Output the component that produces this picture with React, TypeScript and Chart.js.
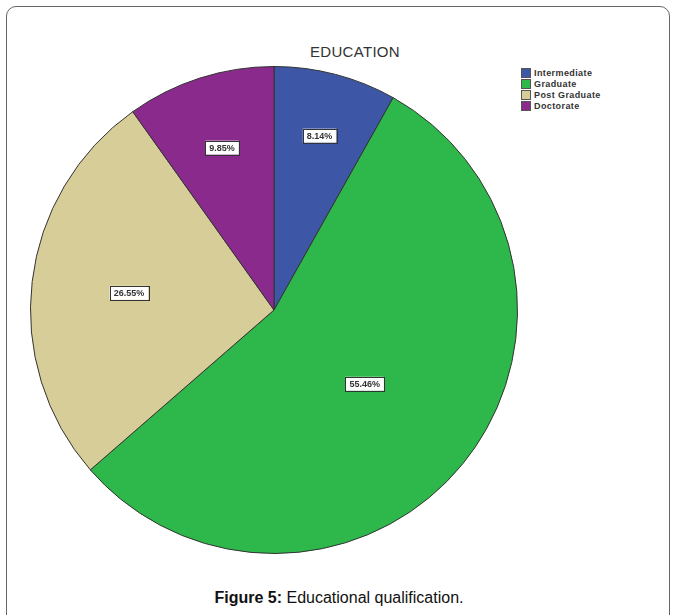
import React, { useEffect, useRef } from "react";
import { Chart, registerables } from "chart.js";

Chart.register(...registerables);

const categories = ["Intermediate", "Graduate", "Post Graduate", "Doctorate"];
const percentages = [8.14, 55.46, 26.55, 9.85];
const sliceColors = ["#3E56A6", "#2EB84B", "#D7CD98", "#8A2A8C"];
const labelRadiusFractions = [0.74, 0.48, 0.6, 0.7];

const labelPlugin = {
  id: "sliceLabels",
  afterDatasetsDraw(chart: any) {
    const ctx = chart.ctx;
    const meta = chart.getDatasetMeta(0);
    const data = chart.data.datasets[0].data as number[];
    ctx.save();
    ctx.font = "bold 9px 'Liberation Sans', Arial, sans-serif";
    ctx.textAlign = "center";
    ctx.textBaseline = "middle";
    meta.data.forEach((arc: any, i: number) => {
      const p = arc.getProps(["x", "y", "startAngle", "endAngle", "outerRadius"], true);
      const mid = (p.startAngle + p.endAngle) / 2;
      const f = labelRadiusFractions[i] ?? 0.6;
      const cx = p.x + Math.cos(mid) * p.outerRadius * f;
      const cy = p.y + Math.sin(mid) * p.outerRadius * f;
      const text = data[i].toFixed(2) + "%";
      const w = ctx.measureText(text).width + 8;
      const h = 14;
      ctx.fillStyle = "#ffffff";
      ctx.fillRect(cx - w / 2, cy - h / 2, w, h);
      ctx.strokeStyle = "#333333";
      ctx.lineWidth = 1;
      ctx.strokeRect(Math.round(cx - w / 2) + 0.5, Math.round(cy - h / 2) + 0.5, Math.round(w), h);
      ctx.fillStyle = "#333333";
      ctx.fillText(text, cx, cy + 0.5);
    });
    ctx.restore();
  },
};

export default function App() {
  const canvasRef = useRef<HTMLCanvasElement | null>(null);

  useEffect(() => {
    document.body.style.margin = "0";
    const canvas = canvasRef.current;
    if (!canvas) return;
    const chart = new Chart(canvas, {
      type: "pie",
      data: {
        labels: categories,
        datasets: [
          {
            data: percentages,
            backgroundColor: sliceColors,
            borderColor: "#333333",
            borderWidth: 1,
          },
        ],
      },
      options: {
        animation: false,
        responsive: false,
        maintainAspectRatio: false,
        layout: { padding: 0 },
        plugins: {
          legend: { display: false },
          title: { display: false },
          tooltip: { enabled: false },
        },
      },
      plugins: [labelPlugin],
    });
    return () => chart.destroy();
  }, []);

  return (
    <div
      style={{
        position: "relative",
        width: 678,
        height: 615,
        overflow: "hidden",
        background: "#ffffff",
        fontFamily: "'Liberation Sans', Arial, sans-serif",
      }}
    >
      <div
        style={{
          position: "absolute",
          left: 6,
          top: 6,
          width: 664,
          height: 640,
          border: "1px solid #666",
          borderRadius: 10,
          boxSizing: "border-box",
        }}
      />
      <div
        style={{
          position: "absolute",
          left: 255,
          width: 200,
          top: 43,
          textAlign: "center",
          fontSize: 15,
          color: "#333",
          letterSpacing: 0.3,
        }}
      >
        EDUCATION
      </div>
      <canvas
        ref={canvasRef}
        width={488}
        height={488}
        style={{ position: "absolute", left: 30, top: 66, width: 488, height: 488 }}
      />
      <div style={{ position: "absolute", left: 521, top: 67 }}>
        {categories.map((c, i) => (
          <div
            key={c}
            style={{
              display: "flex",
              alignItems: "center",
              height: 11,
              fontSize: 9,
              fontWeight: "bold",
              letterSpacing: 0.4,
              color: "#333",
            }}
          >
            <span
              style={{
                display: "inline-block",
                width: 8,
                height: 8,
                background: sliceColors[i],
                border: "1px solid #555",
                marginRight: 3,
              }}
            />
            {c}
          </div>
        ))}
      </div>
      <div
        style={{
          position: "absolute",
          left: 0,
          width: 678,
          top: 589,
          textAlign: "center",
          fontSize: 16,
          color: "#111",
        }}
      >
        <b>Figure 5:</b> Educational qualification.
      </div>
    </div>
  );
}
